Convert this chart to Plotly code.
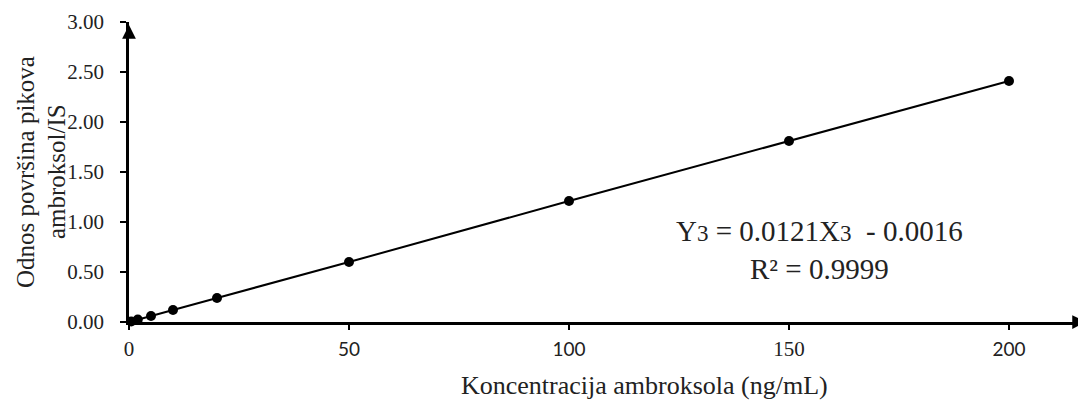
import plotly.graph_objects as go

conc = [0.5, 2, 5, 10, 20, 50, 100, 150, 200]
ratio = [0.005, 0.024, 0.06, 0.12, 0.24, 0.60, 1.21, 1.81, 2.41]

x_tick_vals = [0, 50, 100, 150, 200]
x_tick_text = ["0", "50", "100", "150", "200"]
x_tick_sans = [False, True, True, False, True]
y_tick_vals = [0, 0.5, 1.0, 1.5, 2.0, 2.5, 3.0]
y_tick_text = ["0.00", "0.50", "1.00", "1.50", "2.00", "2.50", "3.00"]

x_title = "Koncentracija ambroksola (ng/mL)"
y_title_lines = ["Odnos površina pikova", "ambroksol/IS"]
eq_text = ("Y<span style='font-size:23px'>3</span> = 0.0121X<span style='font-size:23px'>3</span>  - 0.0016"
           "<br>R² = 0.9999")

serif = "Liberation Serif, Times New Roman, serif"
sans = "Lato, Carlito, sans-serif"

x_labels = [
    (f"<span style='font-family:{sans};font-size:19px'>{t}</span>" if s else t)
    for t, s in zip(x_tick_text, x_tick_sans)
]

fig = go.Figure()
fig.add_trace(go.Scatter(
    x=conc, y=ratio, mode="lines+markers",
    line=dict(color="black", width=2),
    marker=dict(color="black", size=10),
    cliponaxis=False, showlegend=False,
))

y_title_ann = [
    dict(x=px / 957, y=0.5, xref="paper", yref="paper", showarrow=False,
         text=t, textangle=-90, font=dict(size=25, family=serif, color="#222"),
         xanchor="center", yanchor="middle", borderpad=0)
    for t, px in zip(y_title_lines, [-104, -73])
]

fig.update_layout(
    width=1078, height=394,
    margin=dict(l=121, r=0, t=14, b=80),
    paper_bgcolor="white", plot_bgcolor="white",
    font=dict(family=serif, color="black"),
    xaxis=dict(
        range=[0, 217.5], tickvals=x_tick_vals, ticktext=x_labels,
        showgrid=False, zeroline=False, showline=True, linecolor="black", linewidth=2.5,
        ticks="outside", ticklen=5, tickwidth=2, tickcolor="black",
        tickfont=dict(size=21, family=serif, color="#222"),
        ticklabelstandoff=1,
        automargin=False,
    ),
    yaxis=dict(
        range=[0, 3.0], tickvals=y_tick_vals, ticktext=y_tick_text,
        showgrid=False, zeroline=False, showline=True, linecolor="black", linewidth=2.5,
        ticks="outside", ticklen=6, tickwidth=2, tickcolor="black",
        tickfont=dict(size=21, family=serif, color="#222"),
        ticklabelstandoff=12,
        automargin=False,
    ),
    annotations=[
        dict(x=217.5, y=0, xref="x", yref="y", ax=-12, ay=0,
             showarrow=True, arrowhead=2, arrowsize=1.1, arrowwidth=2.5, arrowcolor="black", text=""),
        dict(x=0, y=2.97, xref="x", yref="y", ax=0, ay=12,
             showarrow=True, arrowhead=2, arrowsize=1.1, arrowwidth=2.5, arrowcolor="black", text=""),
        dict(x=0.539, y=-0.21, xref="paper", yref="paper", showarrow=False,
             text=x_title, font=dict(size=26, family=serif, color="#222"),
             xanchor="center", yanchor="middle"),
        dict(x=0.722, y=0.24, xref="paper", yref="paper", showarrow=False,
             text=eq_text, font=dict(size=29, family=serif, color="#222"), align="center",
             xanchor="center", yanchor="middle"),
    ] + y_title_ann,
)

fig.write_html("out.html")
